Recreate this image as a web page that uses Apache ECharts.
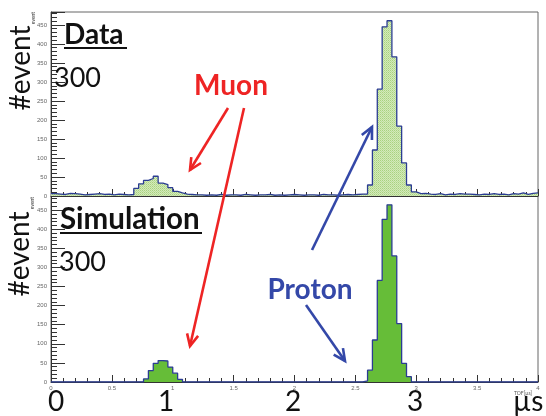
<!DOCTYPE html>
<html>
<head>
<meta charset="utf-8">
<script src="https://cdn.jsdelivr.net/npm/echarts@6/dist/echarts.min.js"></script>
<style>html,body{margin:0;padding:0;background:#fff;}#chart{width:546px;height:416px;}</style>
</head>
<body>
<div id="chart"></div>
<script>
// ---- data ----
const binWidth = 0.04; // 100 bins over 0..4 µs
const dataCounts = [
  6,5,4,7,6,5,3,4,5,6,4,5,3,5,4,3,4,
  20,32,41,46,52,34,30,22,12,8,5,4,3,
  3,2,3,2,4,2,3,3,2,4,3,2,3,3,4,2,3,2,3,4,3,2,3,3,2,4,3,3,2,3,4,3,4,5,
  5,
  29,121,281,445,461,366,184,87,29,11,
  6,7,5,4,6,3,5,4,6,5,5,4,3,5,4,6,4,5,3,6,5,8,4,7,8
];
const simCounts = [
  0,0,0,0,0,0,0,0,0,0,0,0,0,0,0,0,0,0,0,
  8,30,49,56,55,39,23,7,
  0,0,0,0,0,0,0,0,0,0,0,0,0,0,0,0,0,0,0,0,0,0,0,0,0,0,0,0,0,0,0,0,0,0,0,0,0,
  3,
  31,110,266,426,464,330,153,49,14,0,
  0,0,0,0,0,0,0,0,0,0,0,0,0,0,0,0,0,0,0,0,0,0,0,0,0
];
const yTicks = [0,50,100,150,200,250,300,350,400,450];
const xTicks = [0,0.5,1,1.5,2,2.5,3,3.5,4];
const dataMax = 484, simMax = 487;

function toSteps(counts){
  const pts = counts.map((c,i)=>[+(i*binWidth).toFixed(2), c]);
  pts.push([+(counts.length*binWidth).toFixed(2), counts[counts.length-1]]);
  return pts;
}

// dotted hatch pattern for data histogram
const pc = document.createElement('canvas');
pc.width = 2; pc.height = 2;
const pctx = pc.getContext('2d');
pctx.fillStyle = '#d3eaba'; pctx.fillRect(0,0,2,2);
pctx.fillStyle = '#a9d27f'; pctx.fillRect(0,0,1,1);
pctx.fillStyle = '#bcdd98'; pctx.fillRect(1,1,1,1);

const chart = echarts.init(document.getElementById('chart'), null, {renderer:'canvas'});

function yAxisCfg(gi, max){
  return {
    gridIndex: gi, type:'value', min:0, max:max, interval:50,
    axisLine:{show:true, lineStyle:{color:'#333', width:1}},
    axisTick:{show:true, inside:true, length:14, lineStyle:{color:'#333'}},
    minorTick:{show:true, splitNumber:5, length:6, lineStyle:{color:'#333'}},
    splitLine:{show:false},
    axisLabel:{show:true, fontSize:6, color:'#666', margin:4, showMaxLabel:false,
      formatter: v => yTicks.indexOf(v) >= 0 ? String(v) : ''}
  };
}
function xAxisCfg(gi, showLabels){
  return {
    gridIndex: gi, type:'value', min:0, max:4, interval:0.5,
    axisLine:{show:true, lineStyle:{color:'#333', width:1}},
    axisTick:{show:true, inside:true, length:7, lineStyle:{color:'#333'}},
    minorTick:{show:true, splitNumber:5, length:4, lineStyle:{color:'#333'}},
    splitLine:{show:false},
    axisLabel:{show:showLabels, fontSize:6, color:'#666', margin:3,
      formatter: v => xTicks.indexOf(v) >= 0 ? String(v) : ''}
  };
}

function arrow(x1,y1,x2,y2,color){
  const ang = Math.atan2(y2-y1, x2-x1);
  const L = 13, a = 0.45;
  const h1 = [x2 - L*Math.cos(ang - a), y2 - L*Math.sin(ang - a)];
  const h2 = [x2 - L*Math.cos(ang + a), y2 - L*Math.sin(ang + a)];
  return [
    {type:'line', shape:{x1,y1,x2,y2}, style:{stroke:color, lineWidth:2.6}, z:100},
    {type:'polyline', shape:{points:[h1,[x2,y2],h2]}, style:{stroke:color, lineWidth:2.6, fill:null}, z:100}
  ];
}

const bigFont = '"Lato","Open Sans",sans-serif';
const red = '#ee2424', blue = '#3448a8';

const graphics = [
  {type:'text', x:64, y:35, style:{text:'Data', font:'bold 28px '+bigFont, fill:'#111', align:'left', verticalAlign:'middle'}, z:100},
  {type:'line', shape:{x1:64,y1:48,x2:127,y2:48}, style:{stroke:'#111', lineWidth:2.2}, z:100},
  {type:'text', x:54, y:78, style:{text:'300', font:'27px '+bigFont, fill:'#111', align:'left', verticalAlign:'middle'}, z:100},
  {type:'text', x:21, y:68, rotation:Math.PI/2, style:{text:'#event', font:'28px '+bigFont, fill:'#111', align:'center', verticalAlign:'middle'}, z:100},
  {type:'text', x:33, y:18, rotation:Math.PI/2, style:{text:'event', font:'5px '+bigFont, fill:'#333', align:'center', verticalAlign:'middle'}, z:100},
  {type:'text', x:231, y:86, style:{text:'Muon', font:'bold 28px '+bigFont, fill:red, align:'center', verticalAlign:'middle'}, z:100},

  {type:'text', x:60, y:219, style:{text:'Simulation', font:'bold 29.5px '+bigFont, fill:'#111', align:'left', verticalAlign:'middle'}, z:100},
  {type:'line', shape:{x1:60,y1:233,x2:202,y2:233}, style:{stroke:'#111', lineWidth:2.2}, z:100},
  {type:'text', x:59, y:262, style:{text:'300', font:'27px '+bigFont, fill:'#111', align:'left', verticalAlign:'middle'}, z:100},
  {type:'text', x:20, y:254, rotation:Math.PI/2, style:{text:'#event', font:'28px '+bigFont, fill:'#111', align:'center', verticalAlign:'middle'}, z:100},
  {type:'text', x:32, y:203, rotation:Math.PI/2, style:{text:'event', font:'5px '+bigFont, fill:'#333', align:'center', verticalAlign:'middle'}, z:100},
  {type:'text', x:310, y:290, style:{text:'Proton', font:'bold 28px '+bigFont, fill:blue, align:'center', verticalAlign:'middle'}, z:100},

  {type:'text', x:56, y:402, style:{text:'0', font:'28px '+bigFont, fill:'#111', align:'center', verticalAlign:'middle'}, z:100},
  {type:'text', x:166, y:402, style:{text:'1', font:'28px '+bigFont, fill:'#111', align:'center', verticalAlign:'middle'}, z:100},
  {type:'text', x:293, y:402, style:{text:'2', font:'28px '+bigFont, fill:'#111', align:'center', verticalAlign:'middle'}, z:100},
  {type:'text', x:415, y:402, style:{text:'3', font:'28px '+bigFont, fill:'#111', align:'center', verticalAlign:'middle'}, z:100},
  {type:'text', x:513, y:402, style:{text:'µs', font:'28px '+bigFont, fill:'#111', align:'left', verticalAlign:'middle'}, z:100},
  {type:'text', x:523, y:393, style:{text:'TOF[µs]', font:'5px '+bigFont, fill:'#555', align:'center', verticalAlign:'middle'}, z:100}
]
.concat(arrow(228,108,190,170,red))
.concat(arrow(244,108,190,346,red))
.concat(arrow(312,250,372,127,blue))
.concat(arrow(306,305,345,361,blue));

chart.setOption({
  animation:false,
  backgroundColor:'#fff',
  grid:[
    {left:51, right:8, top:12, height:184, show:true, borderColor:'#666', borderWidth:1, backgroundColor:'#fff'},
    {left:51, right:8, top:196, height:186, show:true, borderColor:'#666', borderWidth:1, backgroundColor:'#fff'}
  ],
  xAxis:[xAxisCfg(0,false), xAxisCfg(1,true)],
  yAxis:[yAxisCfg(0,dataMax), yAxisCfg(1,simMax)],
  series:[
    {type:'line', xAxisIndex:0, yAxisIndex:0, step:'end', data:toSteps(dataCounts), symbol:'none',
      lineStyle:{color:'#2b3c92', width:1.3}, areaStyle:{color:{image:pc, repeat:'repeat'}, opacity:1}},
    {type:'line', xAxisIndex:1, yAxisIndex:1, step:'end', data:toSteps(simCounts), symbol:'none',
      lineStyle:{color:'#2b3c92', width:1.3}, areaStyle:{color:'#66bd38', opacity:1}}
  ],
  graphic: graphics
});
</script>
</body>
</html>
